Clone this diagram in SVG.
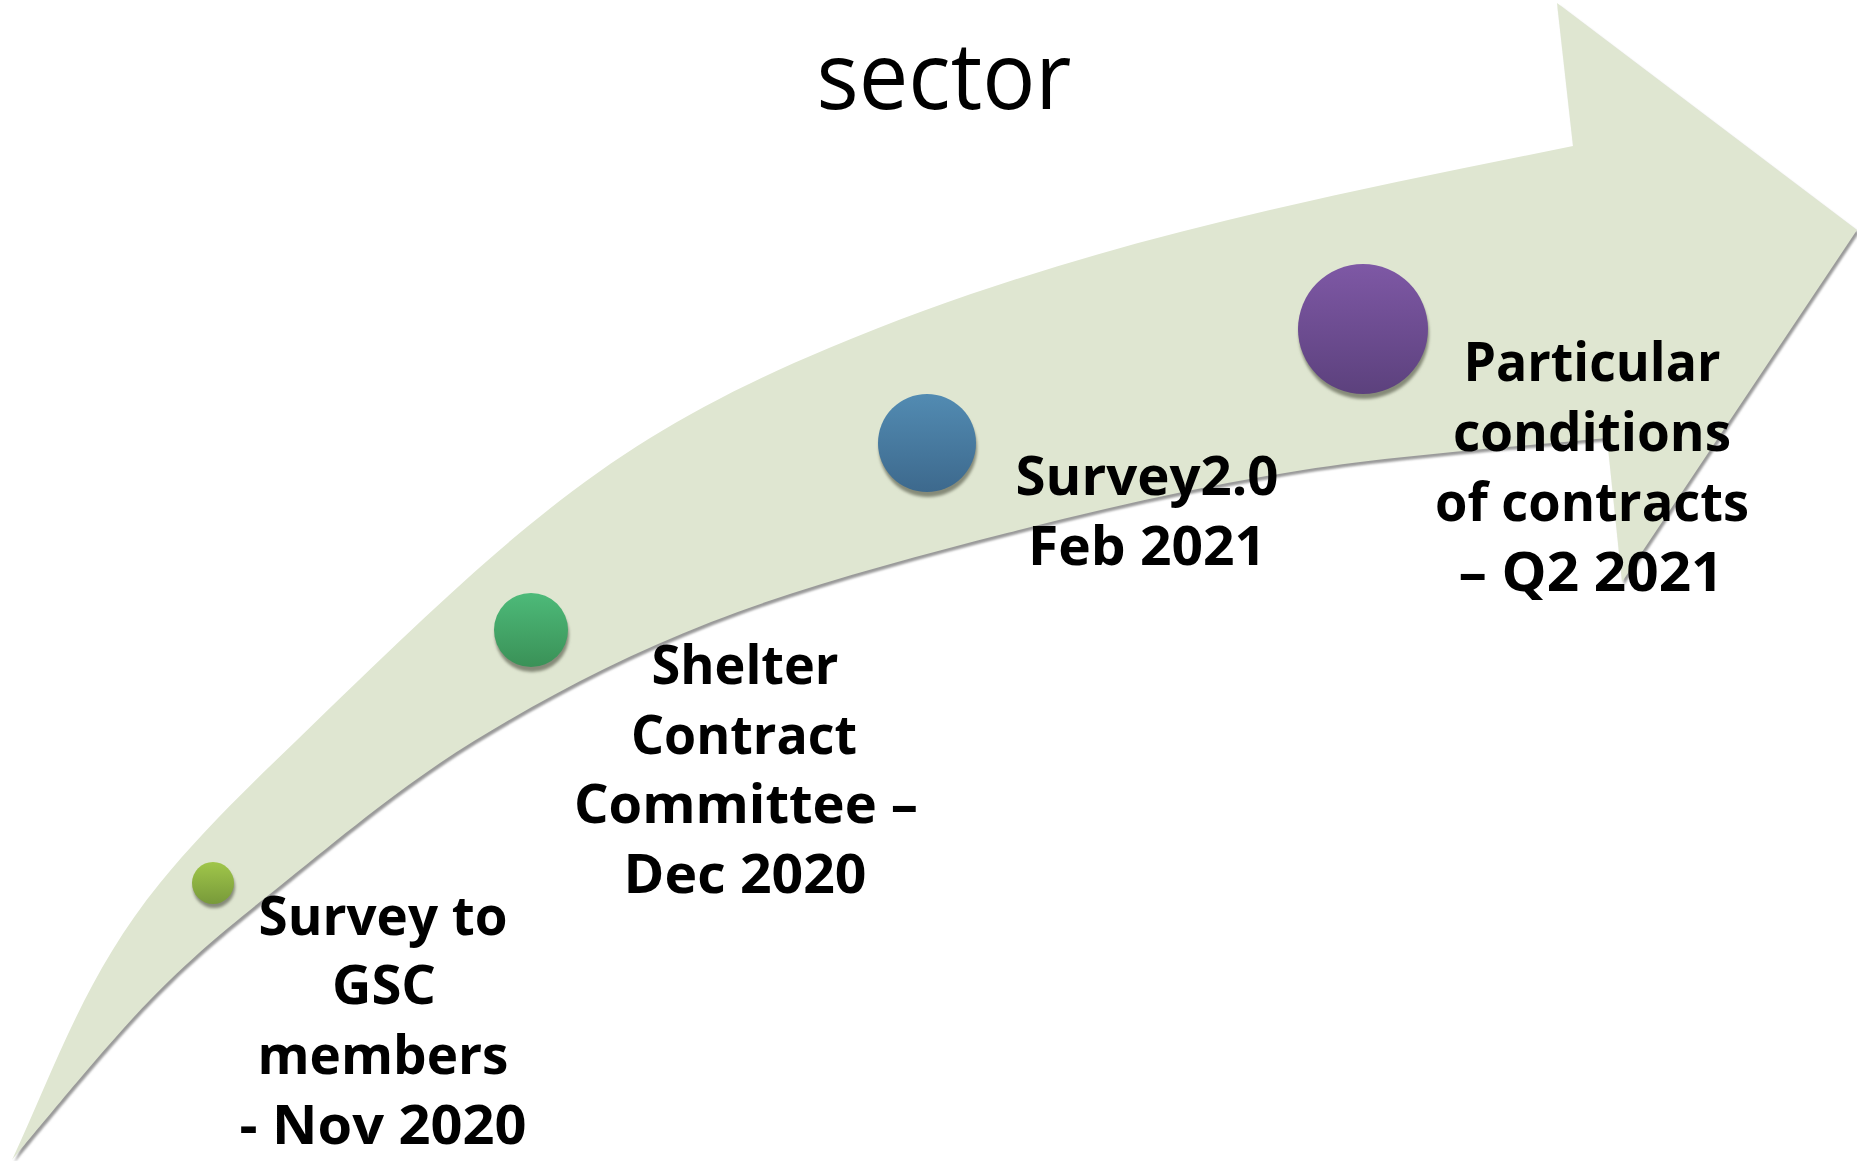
<svg xmlns="http://www.w3.org/2000/svg" width="1857" height="1161" viewBox="0 0 1857 1161">
<style>
.lbl{font-family:"Open Sans","Liberation Sans",sans-serif;font-weight:700;font-size:54px;fill:#000;text-anchor:middle}
.title{font-family:"Open Sans","Liberation Sans",sans-serif;font-weight:400;font-size:94px;fill:#000;text-anchor:middle}
.shadow{fill:#858a78;filter:url(#blur)}
</style>
<defs>
<filter id="blur" x="-20%" y="-20%" width="140%" height="140%"><feGaussianBlur stdDeviation="1.5"/></filter>
<filter id="ablur" x="-5%" y="-5%" width="110%" height="110%"><feGaussianBlur stdDeviation="1"/></filter>
<linearGradient id="gLime" x1="0" y1="0" x2="0" y2="1"><stop offset="0" stop-color="#a0c64a"/><stop offset="1" stop-color="#789a3a"/></linearGradient>
<linearGradient id="gGreen" x1="0" y1="0" x2="0" y2="1"><stop offset="0" stop-color="#4dba79"/><stop offset="1" stop-color="#3a9157"/></linearGradient>
<linearGradient id="gBlue" x1="0" y1="0" x2="0" y2="1"><stop offset="0" stop-color="#528bb2"/><stop offset="1" stop-color="#3d698d"/></linearGradient>
<linearGradient id="gPurple" x1="0" y1="0" x2="0" y2="1"><stop offset="0" stop-color="#7e58a5"/><stop offset="1" stop-color="#5c417d"/></linearGradient>
<path id="arrowShape" d="M12,1160 C35,1133 105.3,1045.7 150,1000 C194.7,954.3 226,929.2 280,886 C334,842.8 402.2,785 474,741 C545.8,697 622.2,656.7 711,622 C799.8,587.3 908.3,558.3 1007,533 C1105.7,507.7 1203,485.8 1303,470 C1403,454.2 1556.3,443.3 1607,438 L1622,582 L1857,230 L1557,3 L1573,146 C1323,197 1079,243 829,348 C609,440 516,527 296,741 C247,788 198,836 160,883 C85,975 55,1068 12,1160 Z"/>
</defs>
<rect width="1857" height="1161" fill="#fff"/>
<g id="title"><text class="title" x="944" y="109" textLength="255" lengthAdjust="spacingAndGlyphs">sector</text></g>
<g id="timeline-arrow">
<use href="#arrowShape" transform="translate(2,3)" fill="#9a9a9a" filter="url(#ablur)"/>
<use href="#arrowShape" fill="#dfe6d1"/>
</g>
<g id="connectors"></g>
<g id="node-survey">
<ellipse class="shadow" cx="214" cy="887" rx="21" ry="21"/>
<ellipse cx="213" cy="883" rx="21" ry="21" fill="url(#gLime)"/>
<text class="lbl" x="383" y="935" textLength="249" lengthAdjust="spacingAndGlyphs">Survey to</text>
<text class="lbl" x="384" y="1004" textLength="104" lengthAdjust="spacingAndGlyphs">GSC</text>
<text class="lbl" x="383" y="1074" textLength="251" lengthAdjust="spacingAndGlyphs">members</text>
<text class="lbl" x="383" y="1144" textLength="287" lengthAdjust="spacingAndGlyphs">- Nov 2020</text>
</g>
<g id="node-committee">
<circle class="shadow" cx="532" cy="635" r="37"/>
<circle cx="531" cy="630" r="37" fill="url(#gGreen)"/>
<text class="lbl" x="745" y="684" textLength="187" lengthAdjust="spacingAndGlyphs">Shelter</text>
<text class="lbl" x="744" y="754" textLength="226" lengthAdjust="spacingAndGlyphs">Contract</text>
<text class="lbl" x="746" y="823" textLength="344" lengthAdjust="spacingAndGlyphs">Committee –</text>
<text class="lbl" x="745" y="893" textLength="243" lengthAdjust="spacingAndGlyphs">Dec 2020</text>
</g>
<g id="node-survey2">
<circle class="shadow" cx="928" cy="448" r="49"/>
<circle cx="927" cy="443" r="49" fill="url(#gBlue)"/>
<text class="lbl" x="1147" y="495" textLength="263" lengthAdjust="spacingAndGlyphs">Survey2.0</text>
<text class="lbl" x="1147" y="565" textLength="238" lengthAdjust="spacingAndGlyphs">Feb 2021</text>
</g>
<g id="node-conditions">
<circle class="shadow" cx="1364" cy="334" r="65"/>
<circle cx="1363" cy="329" r="65" fill="url(#gPurple)"/>
<text class="lbl" x="1592" y="381" textLength="257" lengthAdjust="spacingAndGlyphs">Particular</text>
<text class="lbl" x="1592" y="451" textLength="278" lengthAdjust="spacingAndGlyphs">conditions</text>
<text class="lbl" x="1592" y="521" textLength="314" lengthAdjust="spacingAndGlyphs">of contracts</text>
<text class="lbl" x="1591" y="591" textLength="265" lengthAdjust="spacingAndGlyphs">– Q2 2021</text>
</g>
</svg>
